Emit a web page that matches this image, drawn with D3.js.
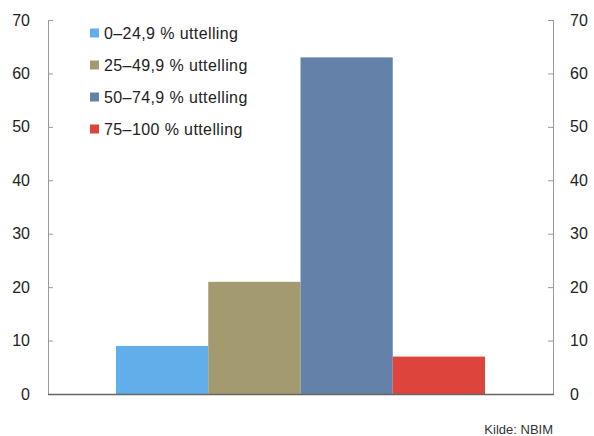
<!DOCTYPE html>
<html>
<head>
<meta charset="utf-8">
<script src="https://cdn.jsdelivr.net/npm/d3@7"></script>
<style>
  body { margin: 0; background: #fff; }
  text { font-family: "Liberation Sans", Arial, sans-serif; fill: #222; }
</style>
</head>
<body>
<svg id="chart" width="594" height="436"></svg>
<script>
var series = ["0–24,9 % uttelling", "25–49,9 % uttelling", "50–74,9 % uttelling", "75–100 % uttelling"];
var values = [9, 21, 63, 7];
var colors = ["#62aeeb", "#a39a70", "#6481aa", "#dc443c"];
var yTicks = [0, 10, 20, 30, 40, 50, 60, 70];

var plotLeft = 48, plotRight = 553, plotTop = 20, plotBottom = 394;

var svg = d3.select('#chart');

var x = d3.scaleBand()
    .domain(series)
    .range([116, 485])
    .padding(0);

var y = d3.scaleLinear()
    .domain([0, 70])
    .range([plotBottom, plotTop]);

// bars
svg.selectAll('rect.bar')
    .data(values)
    .enter()
    .append('rect')
    .attr('class', 'bar')
    .attr('x', (d, i) => x(series[i]))
    .attr('y', d => y(d))
    .attr('width', x.bandwidth())
    .attr('height', d => plotBottom - y(d))
    .attr('fill', (d, i) => colors[i]);

// left axis
var yl = svg.append('g')
    .attr('transform', 'translate(' + plotLeft + ',0)')
    .call(d3.axisRight(y).tickValues(yTicks).tickSize(5).tickFormat(''));
yl.select('.domain').attr('stroke', '#999').attr('d', 'M0.5,' + plotTop + 'V' + plotBottom);
yl.selectAll('.tick line').attr('stroke', '#999');

svg.append('g').selectAll('text')
    .data(yTicks)
    .enter()
    .append('text')
    .attr('x', 30)
    .attr('y', d => y(d))
    .attr('dy', '0.35em')
    .attr('text-anchor', 'end')
    .style('font-size', '16px')
    .text(d => d);

// right axis
var yr = svg.append('g')
    .attr('transform', 'translate(' + plotRight + ',0)')
    .call(d3.axisLeft(y).tickValues(yTicks).tickSize(5).tickFormat(''));
yr.select('.domain').attr('stroke', '#999').attr('d', 'M0.5,' + plotTop + 'V' + plotBottom);
yr.selectAll('.tick line').attr('stroke', '#999');

svg.append('g').selectAll('text')
    .data(yTicks)
    .enter()
    .append('text')
    .attr('x', 570)
    .attr('y', d => y(d))
    .attr('dy', '0.35em')
    .attr('text-anchor', 'start')
    .style('font-size', '16px')
    .text(d => d);

// baseline
svg.append('line')
    .attr('x1', plotLeft).attr('x2', plotRight + 1)
    .attr('y1', plotBottom + 0.5).attr('y2', plotBottom + 0.5)
    .attr('stroke', '#666')
    .attr('stroke-width', 1.5);

// legend
var leg = svg.selectAll('g.legend')
    .data(series)
    .enter()
    .append('g')
    .attr('class', 'legend')
    .attr('transform', (d, i) => 'translate(90,' + (33 + i * 32) + ')');

leg.append('rect')
    .attr('x', 0).attr('y', -4.5)
    .attr('width', 9).attr('height', 9)
    .attr('fill', (d, i) => colors[i]);

leg.append('text')
    .attr('x', 14)
    .attr('dy', '0.35em')
    .style('font-size', '16px')
    .style('letter-spacing', '0.4px')
    .text(d => d);

// source
svg.append('text')
    .attr('x', 553)
    .attr('y', 434)
    .attr('text-anchor', 'end')
    .style('font-size', '13px')
    .style('fill', '#333')
    .text('Kilde: NBIM');
</script>
</body>
</html>
